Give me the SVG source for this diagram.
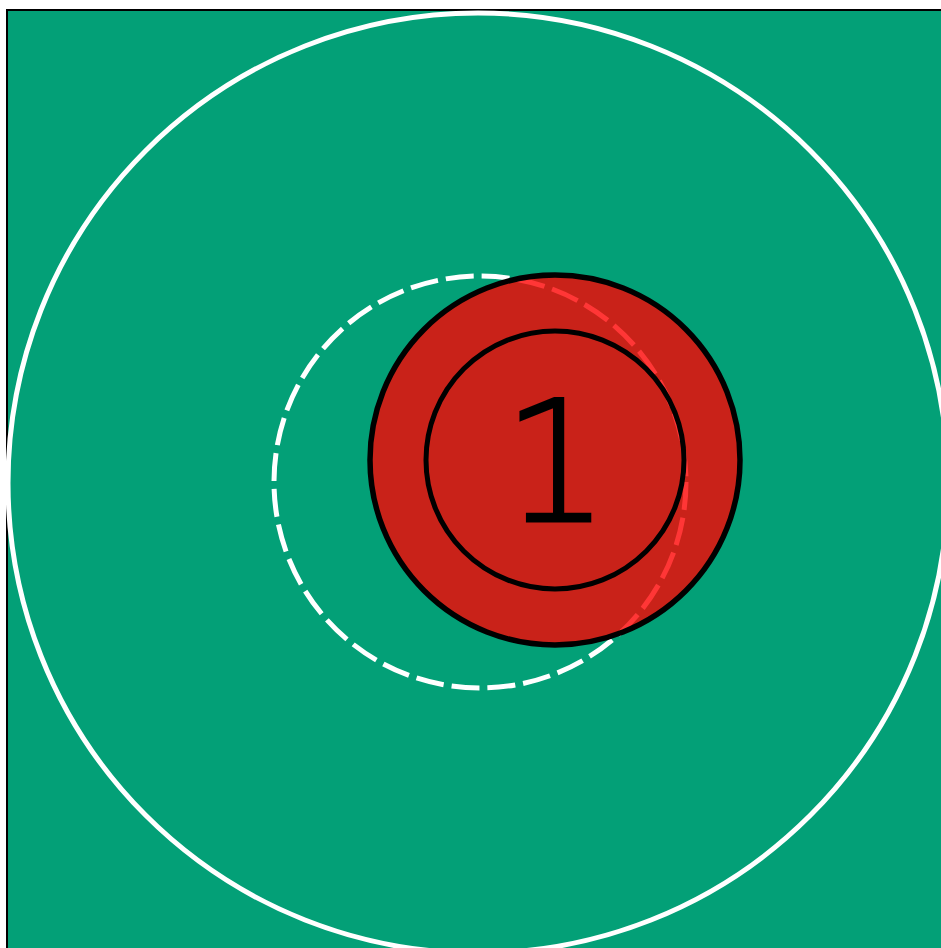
<svg xmlns="http://www.w3.org/2000/svg" width="941" height="948" viewBox="0 0 941 948">
<style>
.field{fill:#03A077;stroke:#000;stroke-width:2}
.ring{fill:none;stroke:#fff;stroke-width:5}
.dash{fill:none;stroke:#fff;stroke-width:5;stroke-dasharray:28 8}
.token{fill:#ff0000;fill-opacity:0.79;stroke:#000;stroke-width:5.5}
.inner{fill:none;stroke:#000;stroke-width:5}
.lbl{font-family:"DejaVu Sans ExtraLight","DejaVu Sans",sans-serif;font-weight:200;font-size:168px;fill:#000;stroke:#000;stroke-width:3;text-anchor:middle}
</style>
<rect class="field" x="7" y="10" width="960" height="960"/>
<circle class="ring" cx="478" cy="483" r="470"/>
<circle class="dash" cx="480" cy="482" r="206"/>
<g id="node1">
<circle class="token" cx="555" cy="460" r="185"/>
<circle class="inner" cx="555" cy="460" r="129"/>
<text class="lbl" x="556" y="521">1</text>
</g>
</svg>
